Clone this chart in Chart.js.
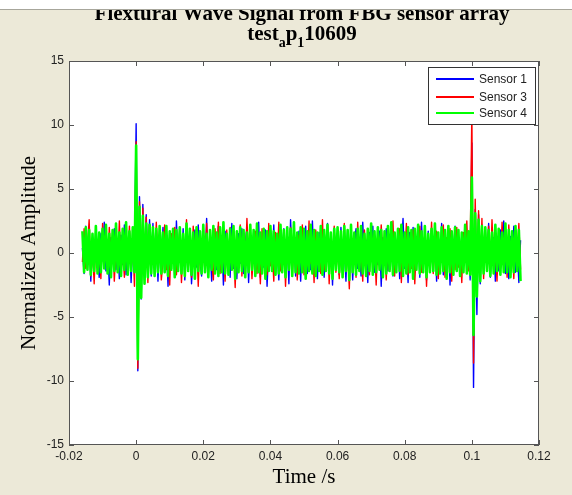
<!DOCTYPE html>
<html>
<head>
<meta charset="utf-8">
<script src="https://cdn.jsdelivr.net/npm/chart.js@4.4.1/dist/chart.umd.min.js"></script>
<style>
  html, body { margin: 0; padding: 0; background: #ECE9D8; }
  #wrap { width: 572px; height: 495px; }
</style>
</head>
<body>
<div id="wrap"><canvas id="c" width="572" height="495"></canvas></div>
<script>
// time in ms (sample grid, -0.016 s .. 0.1145 s)
const timeMs = [
  -16,-15.5,-15,-14.5,-14,-13.5,-13,-12.5,-12,-11.5,-11,-10.5,-10,-9.5,-9,-8.5,
  -8,-7.5,-7,-6.5,-6,-5.5,-5,-4.5,-4,-3.5,-3,-2.5,-2,-1.5,-1,-0.5,
  0,0.5,1,1.5,2,2.5,3,3.5,4,4.5,5,5.5,6,6.5,7,7.5,
  8,8.5,9,9.5,10,10.5,11,11.5,12,12.5,13,13.5,14,14.5,15,15.5,
  16,16.5,17,17.5,18,18.5,19,19.5,20,20.5,21,21.5,22,22.5,23,23.5,
  24,24.5,25,25.5,26,26.5,27,27.5,28,28.5,29,29.5,30,30.5,31,31.5,
  32,32.5,33,33.5,34,34.5,35,35.5,36,36.5,37,37.5,38,38.5,39,39.5,
  40,40.5,41,41.5,42,42.5,43,43.5,44,44.5,45,45.5,46,46.5,47,47.5,
  48,48.5,49,49.5,50,50.5,51,51.5,52,52.5,53,53.5,54,54.5,55,55.5,
  56,56.5,57,57.5,58,58.5,59,59.5,60,60.5,61,61.5,62,62.5,63,63.5,
  64,64.5,65,65.5,66,66.5,67,67.5,68,68.5,69,69.5,70,70.5,71,71.5,
  72,72.5,73,73.5,74,74.5,75,75.5,76,76.5,77,77.5,78,78.5,79,79.5,
  80,80.5,81,81.5,82,82.5,83,83.5,84,84.5,85,85.5,86,86.5,87,87.5,
  88,88.5,89,89.5,90,90.5,91,91.5,92,92.5,93,93.5,94,94.5,95,95.5,
  96,96.5,97,97.5,98,98.5,99,99.5,100,100.5,101,101.5,102,102.5,103,103.5,
  104,104.5,105,105.5,106,106.5,107,107.5,108,108.5,109,109.5,110,110.5,111,111.5,
  112,112.5,113,113.5,114,114.5
];

const sensor1 = [
  0.4,-1.6,2.1,-0.8,1.3,-2.2,0.9,-1.1,1.8,-0.3,-1.9,1.5,-0.6,2.4,-1.4,0.7,
  -2.5,1.2,-0.2,1.9,-1.3,0.6,-2.0,1.4,-0.9,2.2,-1.7,0.3,1.6,-2.3,1.0,-0.5,
  10.1,-9.2,4.4,-3.6,3.8,-2.1,3.0,-1.2,2.6,-1.8,2.3,-0.7,1.9,-2.2,1.1,-0.4,
  2.0,-1.5,0.8,-2.6,1.7,-0.2,1.3,-1.9,2.5,-0.8,0.5,-1.4,1.9,-2.1,0.9,-0.6,
  1.6,-2.4,0.3,1.8,-1.1,2.2,-0.5,-1.8,1.2,-0.9,2.7,-1.6,0.6,-2.2,1.4,0.1,
  -1.3,2.1,-0.7,1.0,-2.5,1.7,-0.4,0.9,-1.9,2.3,-1.2,0.4,-2.0,1.5,-0.8,1.9,
  -1.6,0.7,2.0,-2.3,1.2,-0.6,1.6,-1.4,0.3,2.4,-1.9,0.8,-1.1,1.8,-2.6,0.5,
  1.1,-0.9,2.2,-1.7,0.6,-2.1,1.4,-0.3,1.9,-1.5,0.9,-2.4,2.6,-0.7,1.2,-1.8,
  0.2,1.7,-2.2,1.0,-0.5,2.1,-1.6,0.8,-1.3,2.5,-0.9,0.4,-2.0,1.6,-1.1,1.3,
  -1.9,0.6,2.3,-1.4,0.9,-2.5,1.5,-0.2,1.1,-1.7,2.0,-0.8,0.5,-2.2,1.8,-1.0,
  1.4,-2.1,0.7,1.9,-1.2,0.3,-1.8,2.4,-0.6,1.0,-2.3,1.6,-0.4,2.1,-1.5,0.8,
  -0.9,1.7,-2.6,1.2,-0.3,1.9,-1.4,0.6,2.2,-1.8,0.9,-1.1,1.5,-2.0,0.4,2.7,
  -1.2,0.8,-2.3,1.6,-0.7,2.0,-1.5,0.2,1.3,-1.9,2.4,-0.6,0.9,-2.1,1.7,-1.0,
  1.9,-0.4,1.2,-2.2,0.6,-1.3,2.3,-1.7,0.8,-0.9,1.6,-2.5,1.0,-0.3,2.1,-1.4,
  0.7,-1.8,1.5,-0.6,2.0,-1.2,0.4,-2.1,8.6,-10.5,3.4,-4.8,3.0,-2.4,2.2,-1.3,
  1.7,-0.8,2.3,-1.9,0.5,1.2,-2.2,0.9,-1.4,1.8,-0.5,2.5,-1.6,0.7,-2.0,1.3,
  -0.9,2.1,-1.5,0.6,-2.3,1.0
];

const sensor3 = [
  -0.7,1.9,-1.2,0.5,2.6,-1.8,0.3,-2.4,1.4,-0.6,1.1,-2.0,2.3,-0.9,0.6,-1.5,
  2.0,-0.4,1.6,-2.2,0.8,-1.1,2.5,-1.6,0.2,-1.9,1.3,-0.7,2.1,-1.4,0.9,-2.6,
  8.7,-9.0,4.0,-2.8,3.5,-1.5,2.8,-2.3,2.2,-0.9,1.7,-1.6,2.4,-0.5,1.0,-2.1,
  -0.6,2.2,-1.3,0.7,-2.5,1.5,-0.2,2.0,-1.7,0.4,1.8,-2.3,0.9,-1.0,2.6,-1.2,
  0.5,-1.9,2.1,-0.8,1.2,-2.6,1.6,-0.3,0.8,-1.5,2.3,-1.1,1.4,-0.6,-2.1,1.9,
  -0.7,2.4,-1.6,0.3,1.1,-2.2,1.8,-0.9,2.0,-1.3,0.6,-2.7,1.5,-0.4,2.2,-1.8,
  0.9,-1.2,2.7,-0.5,1.3,-2.0,0.4,1.7,-1.6,0.8,-2.4,1.9,-0.3,1.0,-1.7,2.3,
  -1.0,0.6,-2.2,1.6,-0.7,2.4,-1.4,0.2,1.5,-2.6,0.9,-0.6,2.0,-1.8,0.5,1.2,
  -2.1,1.4,-0.5,2.2,-1.7,0.7,-1.0,2.5,-0.8,1.1,-2.3,1.8,-0.2,0.9,-1.6,2.6,
  -1.3,0.4,1.9,-2.4,1.2,-0.7,2.1,-1.5,0.6,-2.0,1.6,-0.9,2.3,-1.1,0.3,-2.8,
  1.7,-0.6,1.0,-1.9,2.4,-1.2,0.5,-2.2,1.8,-0.4,1.3,-1.7,2.0,-0.8,0.7,-2.5,
  1.5,-1.0,2.2,-0.3,0.9,-2.1,1.6,-1.4,0.4,2.5,-1.8,0.8,-0.6,1.9,-2.3,1.1,
  -0.5,2.3,-1.7,0.6,-1.2,1.8,-2.4,1.0,-0.3,2.1,-1.5,0.7,1.4,-2.6,0.9,-0.8,
  2.4,-1.6,0.5,1.7,-2.0,0.8,-0.7,2.2,-1.9,1.2,-0.4,1.9,-2.2,0.6,-1.3,2.0,
  -1.1,0.9,-2.3,1.6,-0.5,2.5,-1.4,0.3,11.0,-8.6,4.2,-3.2,3.3,-1.7,2.7,-2.0,
  1.2,-0.7,2.1,-1.5,2.6,-0.9,0.4,-2.2,1.8,-1.1,2.4,-0.6,1.5,-1.9,2.2,-0.8,
  1.0,-2.0,1.7,-0.5,2.3,-1.3
];

const sensor4 = [
  1.7,-1.5,2.0,-1.3,1.8,-1.7,1.5,-1.4,2.1,-1.6,1.6,-1.5,1.9,-1.2,2.2,-1.6,
  1.5,-1.9,1.8,-1.4,2.3,-1.5,1.6,-1.8,1.9,-1.3,2.4,-1.7,1.7,-1.4,2.0,-1.5,
  8.4,-8.3,3.6,-3.5,2.9,-2.4,2.3,-1.9,2.2,-1.6,2.0,-1.8,1.9,-1.5,2.1,-1.6,
  1.6,-1.5,2.1,-1.8,1.7,-1.3,1.9,-1.9,1.8,-1.4,2.0,-1.6,1.5,-1.8,2.3,-1.4,
  1.9,-1.7,1.6,-2.0,2.0,-1.4,1.7,-1.6,2.2,-1.5,1.5,-1.9,1.8,-1.3,2.1,-1.6,
  1.6,-1.8,2.0,-1.5,2.4,-1.6,1.5,-1.7,1.9,-1.3,2.1,-2.0,1.7,-1.5,2.0,-1.4,
  1.8,-1.9,1.6,-1.5,2.2,-1.3,1.8,-1.8,2.3,-1.5,1.6,-1.6,1.9,-2.0,1.7,-1.4,
  2.1,-1.4,1.7,-1.7,1.5,-1.6,2.2,-1.5,1.8,-1.9,2.0,-1.3,1.9,-1.8,2.4,-1.5,
  1.6,-1.6,2.0,-1.5,1.9,-2.0,1.7,-1.4,2.2,-1.6,1.8,-1.8,1.6,-1.4,2.1,-1.7,
  1.8,-1.4,2.2,-1.6,1.6,-2.0,1.9,-1.3,2.0,-1.5,1.7,-1.9,2.1,-1.4,1.8,-2.1,
  2.2,-1.5,1.6,-1.7,1.9,-1.4,2.1,-1.6,1.5,-1.8,1.9,-1.4,2.3,-1.7,1.7,-1.5,
  2.0,-1.3,1.8,-1.9,1.7,-1.6,2.1,-1.4,2.4,-1.7,1.6,-1.5,1.9,-1.4,2.2,-1.8,
  1.6,-1.6,2.0,-1.5,1.8,-2.0,1.9,-1.3,2.2,-1.6,1.7,-1.5,2.1,-1.9,1.5,-1.5,
  1.9,-1.4,2.3,-1.7,1.6,-1.6,2.0,-1.4,1.8,-2.0,2.1,-1.5,1.7,-1.7,2.0,-1.4,
  1.8,-1.8,1.6,-1.5,2.2,-1.6,1.7,-1.7,5.9,-6.4,3.1,-3.4,2.6,-2.2,2.1,-1.6,
  2.0,-1.4,1.8,-1.8,1.6,-1.6,2.2,-1.4,1.9,-1.7,1.6,-1.5,2.3,-1.5,1.8,-1.9,
  1.7,-1.5,2.1,-1.4,1.8,-2.2
];

const seriesNames = ['Sensor 1', 'Sensor 3', 'Sensor 4'];
const seriesColors = ['#0000ff', '#ff0000', '#00ff00'];

const xTickValues = [-20, 0, 20, 40, 60, 80, 100, 120];
const xTickLabels = ['-0.02', '0', '0.02', '0.04', '0.06', '0.08', '0.1', '0.12'];
const yTickValues = [-15, -10, -5, 0, 5, 10, 15];
const yTickLabels = ['-15', '-10', '-5', '0', '5', '10', '15'];

const titleLine1 = 'Flextural Wave Signal from FBG sensor array';
// second line: [text, isSubscript]
const titleLine2 = [['test', false], ['a', true], ['p', false], ['1', true], ['10609', false]];

const axisColor = '#555555';
const tickFont = { family: 'Liberation Sans, Arial', size: 12 };

// beige figure, white axes
const backdrop = {
  id: 'backdrop',
  beforeDraw(chart) {
    const { ctx, chartArea: a } = chart;
    ctx.save();
    ctx.fillStyle = '#ECE9D8';
    ctx.fillRect(0, 0, chart.width, chart.height);
    ctx.fillStyle = '#ffffff';
    ctx.fillRect(a.left, a.top, a.right - a.left, a.bottom - a.top);
    ctx.restore();
  }
};

// matlab-ish box with inward ticks, title, legend
const decor = {
  id: 'decor',
  afterDraw(chart) {
    const { ctx, chartArea: a, scales } = chart;
    ctx.save();
    ctx.strokeStyle = axisColor;
    ctx.lineWidth = 1;
    ctx.strokeRect(a.left + 0.5, a.top + 0.5, a.right - a.left - 1, a.bottom - a.top - 1);
    ctx.beginPath();
    xTickValues.forEach(v => {
      const px = Math.round(scales.x.getPixelForValue(v)) + 0.5;
      ctx.moveTo(px, a.bottom); ctx.lineTo(px, a.bottom - 5);
      ctx.moveTo(px, a.top); ctx.lineTo(px, a.top + 5);
    });
    yTickValues.forEach(v => {
      const py = Math.round(scales.y.getPixelForValue(v)) + 0.5;
      ctx.moveTo(a.left, py); ctx.lineTo(a.left + 5, py);
      ctx.moveTo(a.right, py); ctx.lineTo(a.right - 5, py);
    });
    ctx.stroke();

    // title
    const cx = (a.left + a.right) / 2 - 2;
    ctx.fillStyle = '#000';
    ctx.textBaseline = 'alphabetic';
    ctx.textAlign = 'center';
    const big = 'bold 21px "Liberation Serif", "Times New Roman", serif';
    const small = 'bold 14px "Liberation Serif", "Times New Roman", serif';
    ctx.font = big;
    ctx.fillText(titleLine1, cx, 19.5);
    let total = 0;
    titleLine2.forEach(([t, sub]) => { ctx.font = sub ? small : big; total += ctx.measureText(t).width; });
    let x = cx - total / 2;
    ctx.textAlign = 'left';
    titleLine2.forEach(([t, sub]) => {
      ctx.font = sub ? small : big;
      ctx.fillText(t, x, sub ? 46.5 : 39.5);
      x += ctx.measureText(t).width;
    });

    // strip at the very top of the window
    ctx.fillStyle = '#ffffff';
    ctx.fillRect(0, 0, chart.width, 9);
    ctx.fillStyle = '#a7a69b';
    ctx.fillRect(0, 9, chart.width, 1);

    // legend box
    const lx = 428, ly = 67, lw = 107, lh = 57;
    ctx.fillStyle = '#ffffff';
    ctx.fillRect(lx, ly, lw, lh);
    ctx.strokeStyle = '#333333';
    ctx.strokeRect(lx + 0.5, ly + 0.5, lw, lh);
    ctx.font = '12px "Liberation Sans", Arial, sans-serif';
    ctx.textBaseline = 'middle';
    const rows = [78, 96, 112];
    seriesNames.forEach((name, i) => {
      const y = rows[i];
      ctx.fillStyle = seriesColors[i];
      ctx.fillRect(436, y, 38, 2);
      ctx.fillStyle = '#222';
      ctx.fillText(name, 479, y + 1.5);
    });
    ctx.restore();
  }
};

new Chart(document.getElementById('c'), {
  type: 'line',
  data: {
    labels: timeMs,
    datasets: [
      { label: seriesNames[0], data: sensor1, borderColor: seriesColors[0], borderWidth: 1.4, order: 2 },
      { label: seriesNames[1], data: sensor3, borderColor: seriesColors[1], borderWidth: 1.4, order: 1 },
      { label: seriesNames[2], data: sensor4, borderColor: seriesColors[2], borderWidth: 2.6, order: 0 }
    ]
  },
  options: {
    responsive: false,
    animation: false,
    devicePixelRatio: 1,
    layout: { padding: { left: 0, right: 33, top: 61, bottom: 0 } },
    elements: {
      point: { radius: 0 },
      line: { tension: 0, borderJoinStyle: 'round', fill: false }
    },
    plugins: { legend: { display: false }, tooltip: { enabled: false }, title: { display: false } },
    scales: {
      x: {
        type: 'linear', min: -20, max: 120,
        afterBuildTicks: s => { s.ticks = xTickValues.map(v => ({ value: v })); },
        afterFit: s => { s.height = 50; },
        grid: { display: false, drawTicks: false, tickLength: 0 },
        border: { display: false },
        ticks: {
          autoSkip: false, maxRotation: 0, padding: 4, color: '#222', font: tickFont,
          callback: (v, i) => xTickLabels[i]
        },
        title: {
          display: true, text: 'Time /s', color: '#000',
          font: { family: 'Liberation Serif, Times New Roman', size: 21 },
          padding: { top: 0, bottom: 5 }
        }
      },
      y: {
        min: -15, max: 15,
        afterBuildTicks: s => { s.ticks = yTickValues.map(v => ({ value: v })); },
        afterFit: s => { s.width = 69; },
        grid: { display: false, drawTicks: false, tickLength: 0 },
        border: { display: false },
        ticks: {
          autoSkip: false, padding: 5, color: '#222', font: tickFont,
          callback: (v, i) => yTickLabels[i]
        },
        title: {
          display: true, text: 'Normalized Amplitude', color: '#000',
          font: { family: 'Liberation Serif, Times New Roman', size: 21 },
          padding: { top: 17, bottom: 0 }
        }
      }
    }
  },
  plugins: [backdrop, decor]
});
</script>
</body>
</html>
